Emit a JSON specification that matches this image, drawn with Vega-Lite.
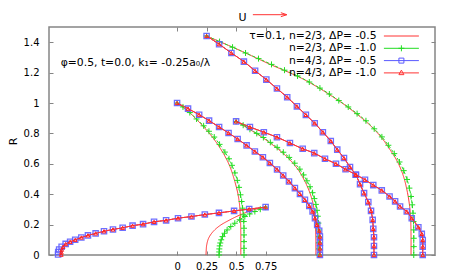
{
"$schema":"https://vega.github.io/schema/vega-lite/v6.json",
"width":386,"height":228,
"autosize":{"type":"none"},
"padding":{"left":49,"top":27,"right":22,"bottom":22},
"background":"white",
"config":{"font":"DejaVu Sans","view":{"stroke":"#858585","strokeWidth":1.5},
"axis":{"domain":false,"grid":false,"tickColor":"#858585","tickWidth":1,"tickSize":-4,"labelFontSize":10,"labelColor":"#000","labelFont":"DejaVu Sans","titleFont":"DejaVu Sans","titleFontWeight":"normal","titleColor":"#000"}},
"datasets":{"v":[
{"s":"a","g":1,"x":0.75,"R":0.315},{"s":"a","g":1,"x":0.645,"R":0.297},{"s":"a","g":1,"x":0.546,"R":0.268},{"s":"a","g":1,"x":0.447,"R":0.231},{"s":"a","g":1,"x":0.362,"R":0.193},{"s":"a","g":1,"x":0.305,"R":0.154},{"s":"a","g":1,"x":0.268,"R":0.112},{"s":"a","g":1,"x":0.251,"R":0.066},{"s":"a","g":1,"x":0.247,"R":0.033},{"s":"a","g":1,"x":0.245,"R":0},
{"s":"a","g":2,"x":0,"R":1.0},{"s":"a","g":2,"x":0.108,"R":0.935},{"s":"a","g":2,"x":0.221,"R":0.846},{"s":"a","g":2,"x":0.305,"R":0.770},{"s":"a","g":2,"x":0.390,"R":0.671},{"s":"a","g":2,"x":0.447,"R":0.583},{"s":"a","g":2,"x":0.489,"R":0.484},{"s":"a","g":2,"x":0.517,"R":0.396},{"s":"a","g":2,"x":0.532,"R":0.308},{"s":"a","g":2,"x":0.538,"R":0.220},{"s":"a","g":2,"x":0.540,"R":0.132},{"s":"a","g":2,"x":0.540,"R":0},
{"s":"a","g":3,"x":0.5,"R":0.879},{"s":"a","g":3,"x":0.617,"R":0.825},{"s":"a","g":3,"x":0.729,"R":0.770},{"s":"a","g":3,"x":0.843,"R":0.704},{"s":"a","g":3,"x":0.941,"R":0.638},{"s":"a","g":3,"x":1.026,"R":0.561},{"s":"a","g":3,"x":1.083,"R":0.484},{"s":"a","g":3,"x":1.126,"R":0.407},{"s":"a","g":3,"x":1.154,"R":0.330},{"s":"a","g":3,"x":1.168,"R":0.253},{"s":"a","g":3,"x":1.174,"R":0.165},{"s":"a","g":3,"x":1.176,"R":0.099},{"s":"a","g":3,"x":1.176,"R":0},
{"s":"a","g":4,"x":0.25,"R":1.441},{"s":"a","g":4,"x":0.532,"R":1.346},{"s":"a","g":4,"x":0.786,"R":1.255},{"s":"a","g":4,"x":1.041,"R":1.168},{"s":"a","g":4,"x":1.210,"R":1.095},{"s":"a","g":4,"x":1.323,"R":1.039},{"s":"a","g":4,"x":1.423,"R":0.986},{"s":"a","g":4,"x":1.522,"R":0.927},{"s":"a","g":4,"x":1.606,"R":0.874},{"s":"a","g":4,"x":1.677,"R":0.821},{"s":"a","g":4,"x":1.745,"R":0.759},{"s":"a","g":4,"x":1.804,"R":0.693},{"s":"a","g":4,"x":1.865,"R":0.617},{"s":"a","g":4,"x":1.917,"R":0.520},{"s":"a","g":4,"x":1.952,"R":0.410},{"s":"a","g":4,"x":1.970,"R":0.320},{"s":"a","g":4,"x":1.979,"R":0.231},{"s":"a","g":4,"x":1.982,"R":0.132},{"s":"a","g":4,"x":1.982,"R":0},
{"s":"b","g":1,"x":0.75,"R":0.315},{"s":"b","g":1,"x":0.705,"R":0.301},{"s":"b","g":1,"x":0.659,"R":0.286},{"s":"b","g":1,"x":0.615,"R":0.270},{"s":"b","g":1,"x":0.574,"R":0.253},{"s":"b","g":1,"x":0.530,"R":0.232},{"s":"b","g":1,"x":0.489,"R":0.209},{"s":"b","g":1,"x":0.455,"R":0.187},{"s":"b","g":1,"x":0.424,"R":0.165},{"s":"b","g":1,"x":0.402,"R":0.143},{"s":"b","g":1,"x":0.385,"R":0.121},{"s":"b","g":1,"x":0.374,"R":0.100},{"s":"b","g":1,"x":0.366,"R":0.079},{"s":"b","g":1,"x":0.361,"R":0.060},{"s":"b","g":1,"x":0.358,"R":0.040},{"s":"b","g":1,"x":0.357,"R":0.020},{"s":"b","g":1,"x":0.356,"R":0},
{"s":"b","g":2,"x":0,"R":1.0},{"s":"b","g":2,"x":0.05,"R":0.974},{"s":"b","g":2,"x":0.108,"R":0.937},{"s":"b","g":2,"x":0.165,"R":0.895},{"s":"b","g":2,"x":0.225,"R":0.850},{"s":"b","g":2,"x":0.27,"R":0.814},{"s":"b","g":2,"x":0.315,"R":0.776},{"s":"b","g":2,"x":0.36,"R":0.728},{"s":"b","g":2,"x":0.405,"R":0.677},{"s":"b","g":2,"x":0.44,"R":0.633},{"s":"b","g":2,"x":0.465,"R":0.590},{"s":"b","g":2,"x":0.49,"R":0.540},{"s":"b","g":2,"x":0.510,"R":0.491},{"s":"b","g":2,"x":0.525,"R":0.445},{"s":"b","g":2,"x":0.537,"R":0.396},{"s":"b","g":2,"x":0.547,"R":0.352},{"s":"b","g":2,"x":0.555,"R":0.308},{"s":"b","g":2,"x":0.561,"R":0.264},{"s":"b","g":2,"x":0.565,"R":0.220},{"s":"b","g":2,"x":0.567,"R":0.176},{"s":"b","g":2,"x":0.567,"R":0.132},{"s":"b","g":2,"x":0.567,"R":0.088},{"s":"b","g":2,"x":0.567,"R":0.044},{"s":"b","g":2,"x":0.567,"R":0},
{"s":"b","g":3,"x":0.5,"R":0.879},{"s":"b","g":3,"x":0.56,"R":0.854},{"s":"b","g":3,"x":0.617,"R":0.827},{"s":"b","g":3,"x":0.675,"R":0.800},{"s":"b","g":3,"x":0.731,"R":0.773},{"s":"b","g":3,"x":0.79,"R":0.741},{"s":"b","g":3,"x":0.848,"R":0.708},{"s":"b","g":3,"x":0.90,"R":0.676},{"s":"b","g":3,"x":0.950,"R":0.642},{"s":"b","g":3,"x":0.997,"R":0.604},{"s":"b","g":3,"x":1.040,"R":0.565},{"s":"b","g":3,"x":1.072,"R":0.527},{"s":"b","g":3,"x":1.100,"R":0.488},{"s":"b","g":3,"x":1.126,"R":0.449},{"s":"b","g":3,"x":1.148,"R":0.410},{"s":"b","g":3,"x":1.163,"R":0.371},{"s":"b","g":3,"x":1.176,"R":0.333},{"s":"b","g":3,"x":1.185,"R":0.294},{"s":"b","g":3,"x":1.192,"R":0.255},{"s":"b","g":3,"x":1.197,"R":0.210},{"s":"b","g":3,"x":1.200,"R":0.165},{"s":"b","g":3,"x":1.202,"R":0.120},{"s":"b","g":3,"x":1.202,"R":0.080},{"s":"b","g":3,"x":1.202,"R":0.040},{"s":"b","g":3,"x":1.202,"R":0},
{"s":"b","g":4,"x":0.25,"R":1.441},{"s":"b","g":4,"x":0.36,"R":1.404},{"s":"b","g":4,"x":0.47,"R":1.367},{"s":"b","g":4,"x":0.58,"R":1.329},{"s":"b","g":4,"x":0.69,"R":1.292},{"s":"b","g":4,"x":0.80,"R":1.254},{"s":"b","g":4,"x":0.91,"R":1.216},{"s":"b","g":4,"x":1.02,"R":1.178},{"s":"b","g":4,"x":1.12,"R":1.138},{"s":"b","g":4,"x":1.21,"R":1.098},{"s":"b","g":4,"x":1.29,"R":1.059},{"s":"b","g":4,"x":1.37,"R":1.016},{"s":"b","g":4,"x":1.45,"R":0.974},{"s":"b","g":4,"x":1.525,"R":0.930},{"s":"b","g":4,"x":1.60,"R":0.883},{"s":"b","g":4,"x":1.67,"R":0.830},{"s":"b","g":4,"x":1.735,"R":0.777},{"s":"b","g":4,"x":1.79,"R":0.722},{"s":"b","g":4,"x":1.84,"R":0.667},{"s":"b","g":4,"x":1.884,"R":0.612},{"s":"b","g":4,"x":1.92,"R":0.555},{"s":"b","g":4,"x":1.948,"R":0.497},{"s":"b","g":4,"x":1.968,"R":0.440},{"s":"b","g":4,"x":1.982,"R":0.385},{"s":"b","g":4,"x":1.992,"R":0.330},{"s":"b","g":4,"x":1.999,"R":0.275},{"s":"b","g":4,"x":2.003,"R":0.220},{"s":"b","g":4,"x":2.005,"R":0.165},{"s":"b","g":4,"x":2.005,"R":0.110},{"s":"b","g":4,"x":2.005,"R":0.055},{"s":"b","g":4,"x":2.005,"R":0},
{"s":"c","g":1,"x":0.75,"R":0.315},{"s":"c","g":1,"x":0.611,"R":0.302},{"s":"c","g":1,"x":0.483,"R":0.290},{"s":"c","g":1,"x":0.355,"R":0.277},{"s":"c","g":1,"x":0.235,"R":0.266},{"s":"c","g":1,"x":0.122,"R":0.253},{"s":"c","g":1,"x":0.008,"R":0.242},{"s":"c","g":1,"x":-0.093,"R":0.228},{"s":"c","g":1,"x":-0.195,"R":0.218},{"s":"c","g":1,"x":-0.288,"R":0.203},{"s":"c","g":1,"x":-0.377,"R":0.193},{"s":"c","g":1,"x":-0.461,"R":0.179},{"s":"c","g":1,"x":-0.543,"R":0.168},{"s":"c","g":1,"x":-0.619,"R":0.156},{"s":"c","g":1,"x":-0.690,"R":0.142},{"s":"c","g":1,"x":-0.755,"R":0.129},{"s":"c","g":1,"x":-0.811,"R":0.115},{"s":"c","g":1,"x":-0.863,"R":0.100},{"s":"c","g":1,"x":-0.906,"R":0.087},{"s":"c","g":1,"x":-0.944,"R":0.073},{"s":"c","g":1,"x":-0.978,"R":0.054},{"s":"c","g":1,"x":-0.999,"R":0.036},{"s":"c","g":1,"x":-1.007,"R":0.020},{"s":"c","g":1,"x":-1.008,"R":0.003},
{"s":"c","g":2,"x":0,"R":1.0},{"s":"c","g":2,"x":0.093,"R":0.963},{"s":"c","g":2,"x":0.187,"R":0.923},{"s":"c","g":2,"x":0.271,"R":0.884},{"s":"c","g":2,"x":0.356,"R":0.842},{"s":"c","g":2,"x":0.436,"R":0.803},{"s":"c","g":2,"x":0.513,"R":0.763},{"s":"c","g":2,"x":0.589,"R":0.721},{"s":"c","g":2,"x":0.659,"R":0.681},{"s":"c","g":2,"x":0.727,"R":0.643},{"s":"c","g":2,"x":0.786,"R":0.605},{"s":"c","g":2,"x":0.847,"R":0.563},{"s":"c","g":2,"x":0.899,"R":0.523},{"s":"c","g":2,"x":0.948,"R":0.484},{"s":"c","g":2,"x":0.998,"R":0.440},{"s":"c","g":2,"x":1.041,"R":0.402},{"s":"c","g":2,"x":1.083,"R":0.363},{"s":"c","g":2,"x":1.120,"R":0.323},{"s":"c","g":2,"x":1.148,"R":0.286},{"s":"c","g":2,"x":1.168,"R":0.242},{"s":"c","g":2,"x":1.187,"R":0.198},{"s":"c","g":2,"x":1.204,"R":0.160},{"s":"c","g":2,"x":1.210,"R":0.121},{"s":"c","g":2,"x":1.210,"R":0.081},{"s":"c","g":2,"x":1.210,"R":0.043},{"s":"c","g":2,"x":1.210,"R":0},
{"s":"c","g":3,"x":0.5,"R":0.879},{"s":"c","g":3,"x":0.617,"R":0.842},{"s":"c","g":3,"x":0.735,"R":0.808},{"s":"c","g":3,"x":0.846,"R":0.775},{"s":"c","g":3,"x":0.956,"R":0.737},{"s":"c","g":3,"x":1.064,"R":0.699},{"s":"c","g":3,"x":1.162,"R":0.670},{"s":"c","g":3,"x":1.253,"R":0.633},{"s":"c","g":3,"x":1.346,"R":0.600},{"s":"c","g":3,"x":1.427,"R":0.564},{"s":"c","g":3,"x":1.516,"R":0.528},{"s":"c","g":3,"x":1.592,"R":0.495},{"s":"c","g":3,"x":1.662,"R":0.460},{"s":"c","g":3,"x":1.734,"R":0.425},{"s":"c","g":3,"x":1.800,"R":0.385},{"s":"c","g":3,"x":1.847,"R":0.353},{"s":"c","g":3,"x":1.889,"R":0.319},{"s":"c","g":3,"x":1.946,"R":0.286},{"s":"c","g":3,"x":1.988,"R":0.242},{"s":"c","g":3,"x":2.044,"R":0.183},{"s":"c","g":3,"x":2.073,"R":0.139},{"s":"c","g":3,"x":2.081,"R":0.099},{"s":"c","g":3,"x":2.081,"R":0.055},{"s":"c","g":3,"x":2.081,"R":0},
{"s":"c","g":4,"x":0.25,"R":1.441},{"s":"c","g":4,"x":0.356,"R":1.387},{"s":"c","g":4,"x":0.460,"R":1.329},{"s":"c","g":4,"x":0.566,"R":1.272},{"s":"c","g":4,"x":0.661,"R":1.212},{"s":"c","g":4,"x":0.756,"R":1.154},{"s":"c","g":4,"x":0.846,"R":1.095},{"s":"c","g":4,"x":0.933,"R":1.038},{"s":"c","g":4,"x":1.015,"R":0.978},{"s":"c","g":4,"x":1.091,"R":0.922},{"s":"c","g":4,"x":1.166,"R":0.867},{"s":"c","g":4,"x":1.235,"R":0.808},{"s":"c","g":4,"x":1.302,"R":0.750},{"s":"c","g":4,"x":1.357,"R":0.693},{"s":"c","g":4,"x":1.414,"R":0.638},{"s":"c","g":4,"x":1.465,"R":0.579},{"s":"c","g":4,"x":1.513,"R":0.528},{"s":"c","g":4,"x":1.550,"R":0.466},{"s":"c","g":4,"x":1.584,"R":0.407},{"s":"c","g":4,"x":1.620,"R":0.348},{"s":"c","g":4,"x":1.643,"R":0.290},{"s":"c","g":4,"x":1.657,"R":0.231},{"s":"c","g":4,"x":1.662,"R":0.172},{"s":"c","g":4,"x":1.668,"R":0.117},{"s":"c","g":4,"x":1.668,"R":0.059},{"s":"c","g":4,"x":1.668,"R":0},
{"s":"d","g":1,"x":0.75,"R":0.315},{"s":"d","g":1,"x":0.611,"R":0.302},{"s":"d","g":1,"x":0.483,"R":0.290},{"s":"d","g":1,"x":0.355,"R":0.277},{"s":"d","g":1,"x":0.235,"R":0.266},{"s":"d","g":1,"x":0.122,"R":0.253},{"s":"d","g":1,"x":0.008,"R":0.242},{"s":"d","g":1,"x":-0.093,"R":0.228},{"s":"d","g":1,"x":-0.195,"R":0.218},{"s":"d","g":1,"x":-0.288,"R":0.203},{"s":"d","g":1,"x":-0.377,"R":0.193},{"s":"d","g":1,"x":-0.461,"R":0.179},{"s":"d","g":1,"x":-0.543,"R":0.168},{"s":"d","g":1,"x":-0.619,"R":0.156},{"s":"d","g":1,"x":-0.690,"R":0.142},{"s":"d","g":1,"x":-0.755,"R":0.129},{"s":"d","g":1,"x":-0.811,"R":0.115},{"s":"d","g":1,"x":-0.863,"R":0.100},{"s":"d","g":1,"x":-0.906,"R":0.087},{"s":"d","g":1,"x":-0.944,"R":0.072},{"s":"d","g":1,"x":-0.966,"R":0.053},{"s":"d","g":1,"x":-0.977,"R":0.035},{"s":"d","g":1,"x":-0.980,"R":0.017},{"s":"d","g":1,"x":-0.981,"R":0.002},
{"s":"d","g":2,"x":0,"R":1.0},{"s":"d","g":2,"x":0.093,"R":0.963},{"s":"d","g":2,"x":0.187,"R":0.923},{"s":"d","g":2,"x":0.271,"R":0.884},{"s":"d","g":2,"x":0.356,"R":0.842},{"s":"d","g":2,"x":0.436,"R":0.803},{"s":"d","g":2,"x":0.513,"R":0.763},{"s":"d","g":2,"x":0.589,"R":0.721},{"s":"d","g":2,"x":0.659,"R":0.681},{"s":"d","g":2,"x":0.727,"R":0.643},{"s":"d","g":2,"x":0.786,"R":0.605},{"s":"d","g":2,"x":0.847,"R":0.563},{"s":"d","g":2,"x":0.899,"R":0.523},{"s":"d","g":2,"x":0.948,"R":0.484},{"s":"d","g":2,"x":0.998,"R":0.440},{"s":"d","g":2,"x":1.041,"R":0.402},{"s":"d","g":2,"x":1.083,"R":0.363},{"s":"d","g":2,"x":1.120,"R":0.323},{"s":"d","g":2,"x":1.148,"R":0.286},{"s":"d","g":2,"x":1.168,"R":0.242},{"s":"d","g":2,"x":1.187,"R":0.198},{"s":"d","g":2,"x":1.204,"R":0.160},{"s":"d","g":2,"x":1.210,"R":0.121},{"s":"d","g":2,"x":1.210,"R":0.081},{"s":"d","g":2,"x":1.210,"R":0.043},{"s":"d","g":2,"x":1.210,"R":0},
{"s":"d","g":3,"x":0.5,"R":0.879},{"s":"d","g":3,"x":0.617,"R":0.842},{"s":"d","g":3,"x":0.735,"R":0.808},{"s":"d","g":3,"x":0.846,"R":0.775},{"s":"d","g":3,"x":0.956,"R":0.737},{"s":"d","g":3,"x":1.064,"R":0.699},{"s":"d","g":3,"x":1.162,"R":0.670},{"s":"d","g":3,"x":1.253,"R":0.633},{"s":"d","g":3,"x":1.346,"R":0.600},{"s":"d","g":3,"x":1.427,"R":0.564},{"s":"d","g":3,"x":1.516,"R":0.528},{"s":"d","g":3,"x":1.592,"R":0.495},{"s":"d","g":3,"x":1.662,"R":0.460},{"s":"d","g":3,"x":1.734,"R":0.425},{"s":"d","g":3,"x":1.800,"R":0.385},{"s":"d","g":3,"x":1.847,"R":0.353},{"s":"d","g":3,"x":1.889,"R":0.319},{"s":"d","g":3,"x":1.946,"R":0.286},{"s":"d","g":3,"x":1.988,"R":0.242},{"s":"d","g":3,"x":2.044,"R":0.183},{"s":"d","g":3,"x":2.073,"R":0.139},{"s":"d","g":3,"x":2.081,"R":0.099},{"s":"d","g":3,"x":2.081,"R":0.055},{"s":"d","g":3,"x":2.081,"R":0},
{"s":"d","g":4,"x":0.25,"R":1.441},{"s":"d","g":4,"x":0.356,"R":1.387},{"s":"d","g":4,"x":0.460,"R":1.329},{"s":"d","g":4,"x":0.566,"R":1.272},{"s":"d","g":4,"x":0.661,"R":1.212},{"s":"d","g":4,"x":0.756,"R":1.154},{"s":"d","g":4,"x":0.846,"R":1.095},{"s":"d","g":4,"x":0.933,"R":1.038},{"s":"d","g":4,"x":1.015,"R":0.978},{"s":"d","g":4,"x":1.091,"R":0.922},{"s":"d","g":4,"x":1.166,"R":0.867},{"s":"d","g":4,"x":1.235,"R":0.808},{"s":"d","g":4,"x":1.302,"R":0.750},{"s":"d","g":4,"x":1.357,"R":0.693},{"s":"d","g":4,"x":1.414,"R":0.638},{"s":"d","g":4,"x":1.465,"R":0.579},{"s":"d","g":4,"x":1.513,"R":0.528},{"s":"d","g":4,"x":1.550,"R":0.466},{"s":"d","g":4,"x":1.584,"R":0.407},{"s":"d","g":4,"x":1.620,"R":0.348},{"s":"d","g":4,"x":1.643,"R":0.290},{"s":"d","g":4,"x":1.657,"R":0.231},{"s":"d","g":4,"x":1.662,"R":0.172},{"s":"d","g":4,"x":1.668,"R":0.117},{"s":"d","g":4,"x":1.668,"R":0.059},{"s":"d","g":4,"x":1.668,"R":0}
],
"note":[{"t":"φ=0.5, t=0.0, k₁= -0.25a₀/λ"}]},
"data":{"name":"v"},
"layer":[
{"mark":{"type":"line","strokeWidth":1,"interpolate":"catmull-rom"},
"encoding":{
"x":{"field":"x","type":"quantitative","scale":{"domain":[-1.085,2.185],"nice":false,"zero":false},"axis":{"orient":"bottom","values":[0,0.25,0.5,0.75],"format":".2~f","title":null,"labelPadding":10}},
"y":{"field":"R","type":"quantitative","scale":{"domain":[0,1.5],"nice":false,"zero":false},"axis":{"orient":"left","values":[0,0.2,0.4,0.6,0.8,1,1.2,1.4],"format":".1~f","title":"R","titleFontSize":11,"labelPadding":14,"titlePadding":5}},
"detail":{"field":"g"},
"order":{"value":null},
"stroke":{"field":"s","type":"nominal","scale":{"domain":["a","b","c","d"],"range":["#ff3333","#22dd22","#5555ff","#ff3333"]},"legend":null},
"strokeDash":{"field":"s","type":"nominal","scale":{"domain":["a","b","c","d"],"range":[[1,0],[3,2],[1.5,1.5],[1,0]]},"legend":null}
}},
{"transform":[{"filter":"datum.s === 'b'"}],
"mark":{"type":"point","shape":"M-1,0H1M0,-1V1","size":36,"stroke":"#22dd22","strokeWidth":1,"filled":false,"opacity":1},
"encoding":{"x":{"field":"x","type":"quantitative","axis":null},"y":{"field":"R","type":"quantitative","axis":null}}},
{"transform":[{"filter":"datum.s === 'c'"}],
"mark":{"type":"point","shape":"square","size":28,"stroke":"#6060ff","strokeWidth":1.3,"filled":false,"opacity":0.9},
"encoding":{"x":{"field":"x","type":"quantitative","axis":null},"y":{"field":"R","type":"quantitative","axis":null}}},
{"transform":[{"filter":"datum.s === 'd'"}],
"mark":{"type":"line","stroke":"#ff3333","strokeWidth":1,"interpolate":"catmull-rom"},
"encoding":{"x":{"field":"x","type":"quantitative","axis":null},"y":{"field":"R","type":"quantitative","axis":null},"detail":{"field":"g"},"order":{"value":null}}},
{"transform":[{"filter":"datum.s === 'd'"}],
"mark":{"type":"point","shape":"triangle-up","size":14,"stroke":"#ff2020","strokeWidth":1,"filled":false,"opacity":1},
"encoding":{
"x":{"field":"x","type":"quantitative","axis":{"orient":"top","values":[0,0.25,0.5,0.75],"labels":false,"title":"U","titleFontSize":11,"titlePadding":4}},
"y":{"field":"R","type":"quantitative","axis":{"orient":"right","values":[0,0.2,0.4,0.6,0.8,1,1.2,1.4],"labels":false,"title":null}}
}},
{"transform":[{"filter":"false"}],
"mark":{"type":"point","filled":false,"opacity":1,"strokeWidth":1},
"encoding":{
"x":{"field":"x","type":"quantitative","axis":null},"y":{"field":"R","type":"quantitative","axis":null},
"color":{"field":"s","type":"nominal","scale":{"domain":["A","B","C","D"],"range":["#ff3333","#22dd22","#5a5aff","#ff3333"]},
"legend":{"orient":"none","legendX":347,"legendY":3.6,"title":null,"padding":0,"rowPadding":0.3,"labelAlign":"right","labelOffset":-30.3,"labelFont":"DejaVu Sans","labelFontSize":10.8,"labelColor":"#000","labelLimit":400,"symbolSize":25,"symbolStrokeWidth":1,
"labelExpr":"datum.label == 'A' ? 'τ=0.1, n=2/3, ΔP= -0.5' : datum.label == 'B' ? 'n=2/3, ΔP= -1.0' : datum.label == 'C' ? 'n=4/3, ΔP= -0.5' : 'n=4/3, ΔP= -1.0'"}},
"shape":{"field":"s","type":"nominal","scale":{"domain":["A","B","C","D"],"range":["M-7,0H7","M-7,0H7M-1.2,0H1.2M0,-1.2V1.2","M-7,0H7M-1,-1H1V1H-1Z","M-7,0H7M-1,0.7L0,-1.1L1,0.7Z"]},
"legend":{"orient":"none","legendX":347,"legendY":3.6,"title":null,"padding":0,"rowPadding":0.3,"labelAlign":"right","labelOffset":-30.3,"labelFont":"DejaVu Sans","labelFontSize":10.8,"labelColor":"#000","labelLimit":400,"symbolSize":25,"symbolStrokeWidth":1,
"labelExpr":"datum.label == 'A' ? 'τ=0.1, n=2/3, ΔP= -0.5' : datum.label == 'B' ? 'n=2/3, ΔP= -1.0' : datum.label == 'C' ? 'n=4/3, ΔP= -0.5' : 'n=4/3, ΔP= -1.0'"}},
"strokeDash":{"field":"s","type":"nominal","scale":{"domain":["A","B","C","D"],"range":[[1,0],[3,2],[1.5,1.5],[1,0]]},
"legend":{"orient":"none","legendX":347,"legendY":3.6,"title":null,"padding":0,"rowPadding":0.3,"labelAlign":"right","labelOffset":-30.3,"labelFont":"DejaVu Sans","labelFontSize":10.8,"labelColor":"#000","labelLimit":400,"symbolSize":25,"symbolStrokeWidth":1,
"labelExpr":"datum.label == 'A' ? 'τ=0.1, n=2/3, ΔP= -0.5' : datum.label == 'B' ? 'n=2/3, ΔP= -1.0' : datum.label == 'C' ? 'n=4/3, ΔP= -0.5' : 'n=4/3, ΔP= -1.0'"}}
}},
{"data":{"name":"note"},
"mark":{"type":"text","align":"left","baseline":"middle","font":"DejaVu Sans","fontSize":10.8,"fill":"#000"},
"encoding":{"text":{"field":"t"},"x":{"datum":-0.986,"type":"quantitative","axis":null},"y":{"datum":1.265,"type":"quantitative","axis":null}}},
{"data":{"name":"note"},
"mark":{"type":"rule","stroke":"#ff3333","strokeWidth":1},
"encoding":{"x":{"datum":0.642,"type":"quantitative","axis":null},"x2":{"datum":0.928},"y":{"datum":1.581,"type":"quantitative","axis":null}}},
{"data":{"name":"note"},
"mark":{"type":"point","shape":"M-2,-0.67L0,0L-2,0.67","size":36,"stroke":"#ff3333","strokeWidth":1,"filled":false,"opacity":1},
"encoding":{"x":{"datum":0.93,"type":"quantitative","axis":null},"y":{"datum":1.581,"type":"quantitative","axis":null}}}
],
"resolve":{"axis":{"x":"independent","y":"independent"}}
}
